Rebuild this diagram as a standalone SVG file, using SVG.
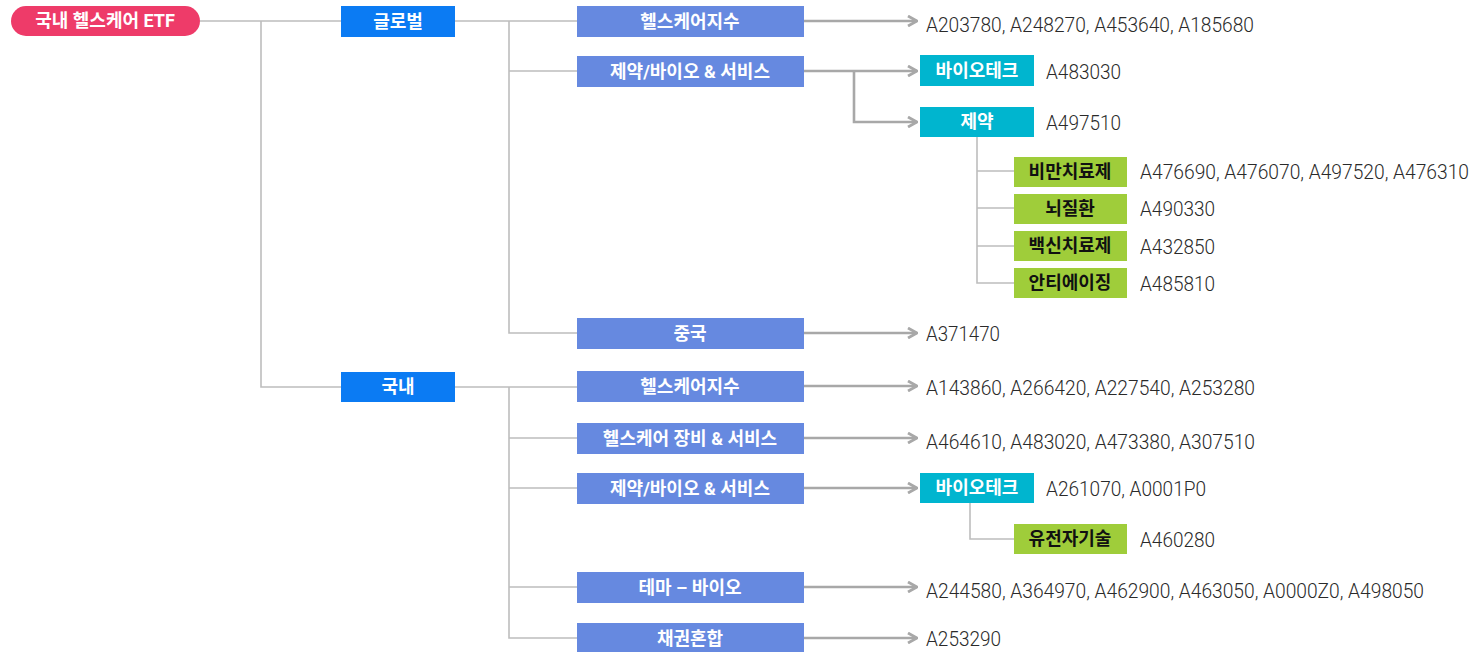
<svg xmlns="http://www.w3.org/2000/svg" width="1480" height="652" viewBox="0 0 1480 652">
<defs>
<style>
.lbl{font-family:Roboto,"Noto Sans CJK KR",sans-serif;font-size:18px;font-weight:bold;fill:#fff;text-anchor:middle}
.lbk{fill:#111}
.val{font-family:Roboto,"Noto Sans CJK KR",sans-serif;font-size:20px;font-weight:300;fill:#2a2a2a}
.tree{fill:none;stroke:#bdbdbd;stroke-width:1.6}
.arr{fill:none;stroke:#a8a8a8;stroke-width:2.6;marker-end:url(#ah)}
.l1{fill:#0b7bf3}
.l2{fill:#6689e0}
.tl{fill:#00b5cf}
.gr{fill:#9fcd3a}
</style>
<marker id="ah" viewBox="0 0 12 12" refX="11" refY="6" markerWidth="12" markerHeight="12" markerUnits="userSpaceOnUse" orient="auto">
<path d="M2,1 L11,6 L2,11" fill="none" stroke="#a8a8a8" stroke-width="2.8"/>
</marker>
</defs>
<rect width="1480" height="652" fill="#fff"/>
<g id="connectors">
<path class="tree" d="M200,21 H341 M261,21 V387 H341"/>
<path class="tree" d="M455,21 H577 M509,21 V333 H577 M509,71 H577"/>
<path class="tree" d="M455,387 H577 M509,387 V638 H577 M509,438 H577 M509,488 H577 M509,587 H577"/>
<path class="tree" d="M977,137 V283 H1014 M977,171 H1014 M977,208 H1014 M977,246 H1014"/>
<path class="tree" d="M970,503 V539 H1014"/>
<path class="arr" d="M804,21 H917"/>
<path class="arr" d="M804,71 H917"/>
<path class="arr" d="M854,71 V122 H917"/>
<path class="arr" d="M804,333 H917"/>
<path class="arr" d="M804,386 H917"/>
<path class="arr" d="M804,438 H917"/>
<path class="arr" d="M804,488 H917"/>
<path class="arr" d="M804,587 H917"/>
<path class="arr" d="M804,638 H917"/>
</g>
<g id="root"><rect x="11" y="6" width="189" height="30" rx="15" fill="#ee3b69"/><text class="lbl" x="105" y="27">국내 헬스케어 ETF</text></g>
<g id="global"><rect class="l1" x="341" y="6" width="114" height="31"/><text class="lbl" x="398" y="28">글로벌</text></g>
<g id="domestic"><rect class="l1" x="341" y="372" width="114" height="30"/><text class="lbl" x="398" y="393">국내</text></g>

<g id="g-hc"><rect class="l2" x="577" y="6" width="227" height="31"/><text class="lbl" x="690" y="28">헬스케어지수</text><text class="val" x="926" y="32" textLength="328" lengthAdjust="spacingAndGlyphs">A203780, A248270, A453640, A185680</text></g>
<g id="g-pb"><rect class="l2" x="577" y="56" width="227" height="31"/><text class="lbl" x="690" y="78">제약/바이오 &amp; 서비스</text></g>
<g id="g-bt"><rect class="tl" x="920" y="55" width="114" height="31"/><text class="lbl" x="977" y="77">바이오테크</text><text class="val" x="1046" y="79" textLength="75" lengthAdjust="spacingAndGlyphs">A483030</text></g>
<g id="g-ph"><rect class="tl" x="920" y="107" width="114" height="30"/><text class="lbl" x="977" y="128">제약</text><text class="val" x="1046" y="130" textLength="75" lengthAdjust="spacingAndGlyphs">A497510</text></g>
<g id="g-ob"><rect class="gr" x="1014" y="157" width="113" height="30"/><text class="lbl lbk" x="1070" y="178">비만치료제</text><text class="val" x="1140" y="179" textLength="329" lengthAdjust="spacingAndGlyphs">A476690, A476070, A497520, A476310</text></g>
<g id="g-br"><rect class="gr" x="1014" y="194" width="113" height="30"/><text class="lbl lbk" x="1070" y="215">뇌질환</text><text class="val" x="1140" y="216" textLength="75" lengthAdjust="spacingAndGlyphs">A490330</text></g>
<g id="g-vc"><rect class="gr" x="1014" y="231" width="113" height="30"/><text class="lbl lbk" x="1070" y="252">백신치료제</text><text class="val" x="1140" y="254" textLength="75" lengthAdjust="spacingAndGlyphs">A432850</text></g>
<g id="g-aa"><rect class="gr" x="1014" y="268" width="113" height="30"/><text class="lbl lbk" x="1070" y="289">안티에이징</text><text class="val" x="1140" y="291" textLength="75" lengthAdjust="spacingAndGlyphs">A485810</text></g>
<g id="g-cn"><rect class="l2" x="577" y="318" width="227" height="31"/><text class="lbl" x="690" y="340">중국</text><text class="val" x="926" y="341" textLength="74" lengthAdjust="spacingAndGlyphs">A371470</text></g>

<g id="d-hc"><rect class="l2" x="577" y="371" width="227" height="31"/><text class="lbl" x="690" y="393">헬스케어지수</text><text class="val" x="926" y="395" textLength="329" lengthAdjust="spacingAndGlyphs">A143860, A266420, A227540, A253280</text></g>
<g id="d-eq"><rect class="l2" x="577" y="423" width="227" height="31"/><text class="lbl" x="690" y="445">헬스케어 장비 &amp; 서비스</text><text class="val" x="926" y="449" textLength="329" lengthAdjust="spacingAndGlyphs">A464610, A483020, A473380, A307510</text></g>
<g id="d-pb"><rect class="l2" x="577" y="473" width="227" height="31"/><text class="lbl" x="690" y="495">제약/바이오 &amp; 서비스</text></g>
<g id="d-bt"><rect class="tl" x="920" y="473" width="114" height="30"/><text class="lbl" x="977" y="494">바이오테크</text><text class="val" x="1046" y="496" textLength="160" lengthAdjust="spacingAndGlyphs">A261070, A0001P0</text></g>
<g id="d-gn"><rect class="gr" x="1014" y="524" width="113" height="30"/><text class="lbl lbk" x="1070" y="545">유전자기술</text><text class="val" x="1140" y="547" textLength="75" lengthAdjust="spacingAndGlyphs">A460280</text></g>
<g id="d-tb"><rect class="l2" x="577" y="572" width="227" height="31"/><text class="lbl" x="690" y="594">테마 – 바이오</text><text class="val" x="926" y="598" textLength="498" lengthAdjust="spacingAndGlyphs">A244580, A364970, A462900, A463050, A0000Z0, A498050</text></g>
<g id="d-bd"><rect class="l2" x="577" y="623" width="227" height="31"/><text class="lbl" x="690" y="645">채권혼합</text><text class="val" x="926" y="646" textLength="75" lengthAdjust="spacingAndGlyphs">A253290</text></g>
</svg>
